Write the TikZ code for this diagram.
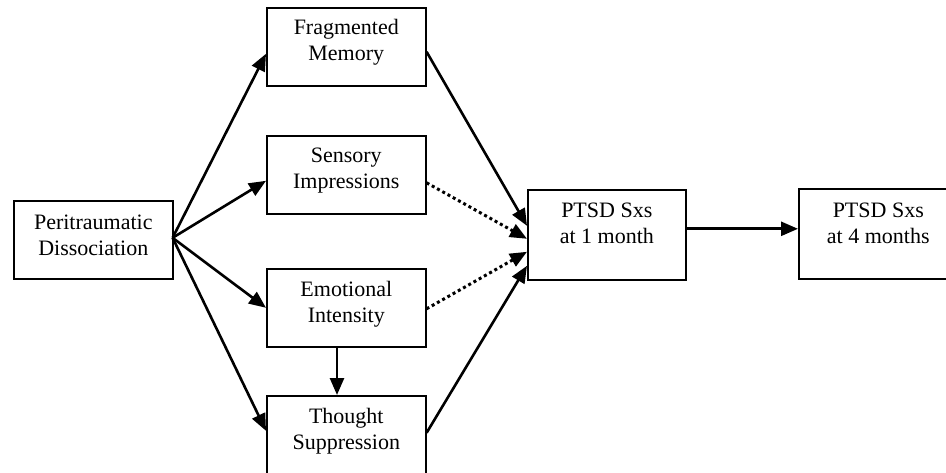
\documentclass[tikz,border=0pt]{standalone}
\usepackage{fontspec}
\setmainfont{Liberation Serif}
\usetikzlibrary{arrows.meta,calc}
\begin{document}
\begin{tikzpicture}[x=1pt,y=-1pt,
  box/.style={draw, line width=1.6pt, inner sep=0pt, anchor=north west, minimum width=159pt, minimum height=78pt},
  tallbox/.style={box, minimum height=90pt},
  lbl/.style={align=center, font=\fontsize{22}{26}\selectfont, inner sep=0pt},
  arr/.style={line width=2.6pt, -{Triangle[length=17pt,width=14pt]}},
  dotarr/.style={line width=3pt, dash pattern=on 3pt off 3pt, -{Triangle[length=17pt,width=14pt]}}]
\useasboundingbox (0,0) rectangle (946,473);

\node[box] (peri) at (13,200) {};
\node[lbl] (perit) at ($(peri.center)+(0,-4)$) {Peritraumatic\\Dissociation};

\node[box] (frag) at (266,7) {};
\node[lbl] (fragt) at ($(frag.center)+(0,-5)$) {Fragmented\\Memory};

\node[box] (sens) at (266,135) {};
\node[lbl] (senst) at ($(sens.center)+(0,-4)$) {Sensory\\Impressions};

\node[box] (emo) at (266,268) {};
\node[lbl] (emot) at ($(emo.center)+(0,-4)$) {Emotional\\Intensity};

\node[box] (thou) at (266,395) {};
\node[lbl] (thout) at ($(thou.center)+(0,-4)$) {Thought\\Suppression};

\node[tallbox, minimum width=158pt] (p1) at (527,189) {};
\node[lbl] (p1t) at ($(p1.center)+(0,-11)$) {PTSD Sxs\\at 1 month};

\node[tallbox] (p4) at (798,188) {};
\node[lbl] (p4t) at ($(p4.center)+(0,-10)$) {PTSD Sxs\\at 4 months};

% left fan
\coordinate (src) at ($(peri.east)+(-1,-2)$);
\draw[arr] (src) -- ($(frag.west)+(0,7)$);
\draw[arr] (src) -- ($(sens.west)+(0,6)$);
\draw[arr] (src) -- ($(emo.west)+(0,0)$);
\draw[arr] (src) -- ($(thou.west)+(0,-4)$);

% to PTSD at 1 month
\draw[arr] ($(frag.east)+(0,5)$) -- ($(p1.west)+(0,-9)$);
\draw[dotarr] ($(sens.east)+(0,8)$) -- ($(p1.west)+(0,4)$);
\draw[dotarr] ($(emo.east)+(0,1)$) -- ($(p1.west)+(0,17)$);
\draw[arr] ($(thou.east)+(0,-2)$) -- ($(p1.west)+(0,31)$);

% emotional -> thought
\draw[arr] (emo.south -| 337,0) -- (thou.north -| 337,0);

% 1 month -> 4 months
\draw[arr] ($(p1.east)+(0,-6)$) -- ($(p4.west)+(0,-5)$);
\end{tikzpicture}
\end{document}
